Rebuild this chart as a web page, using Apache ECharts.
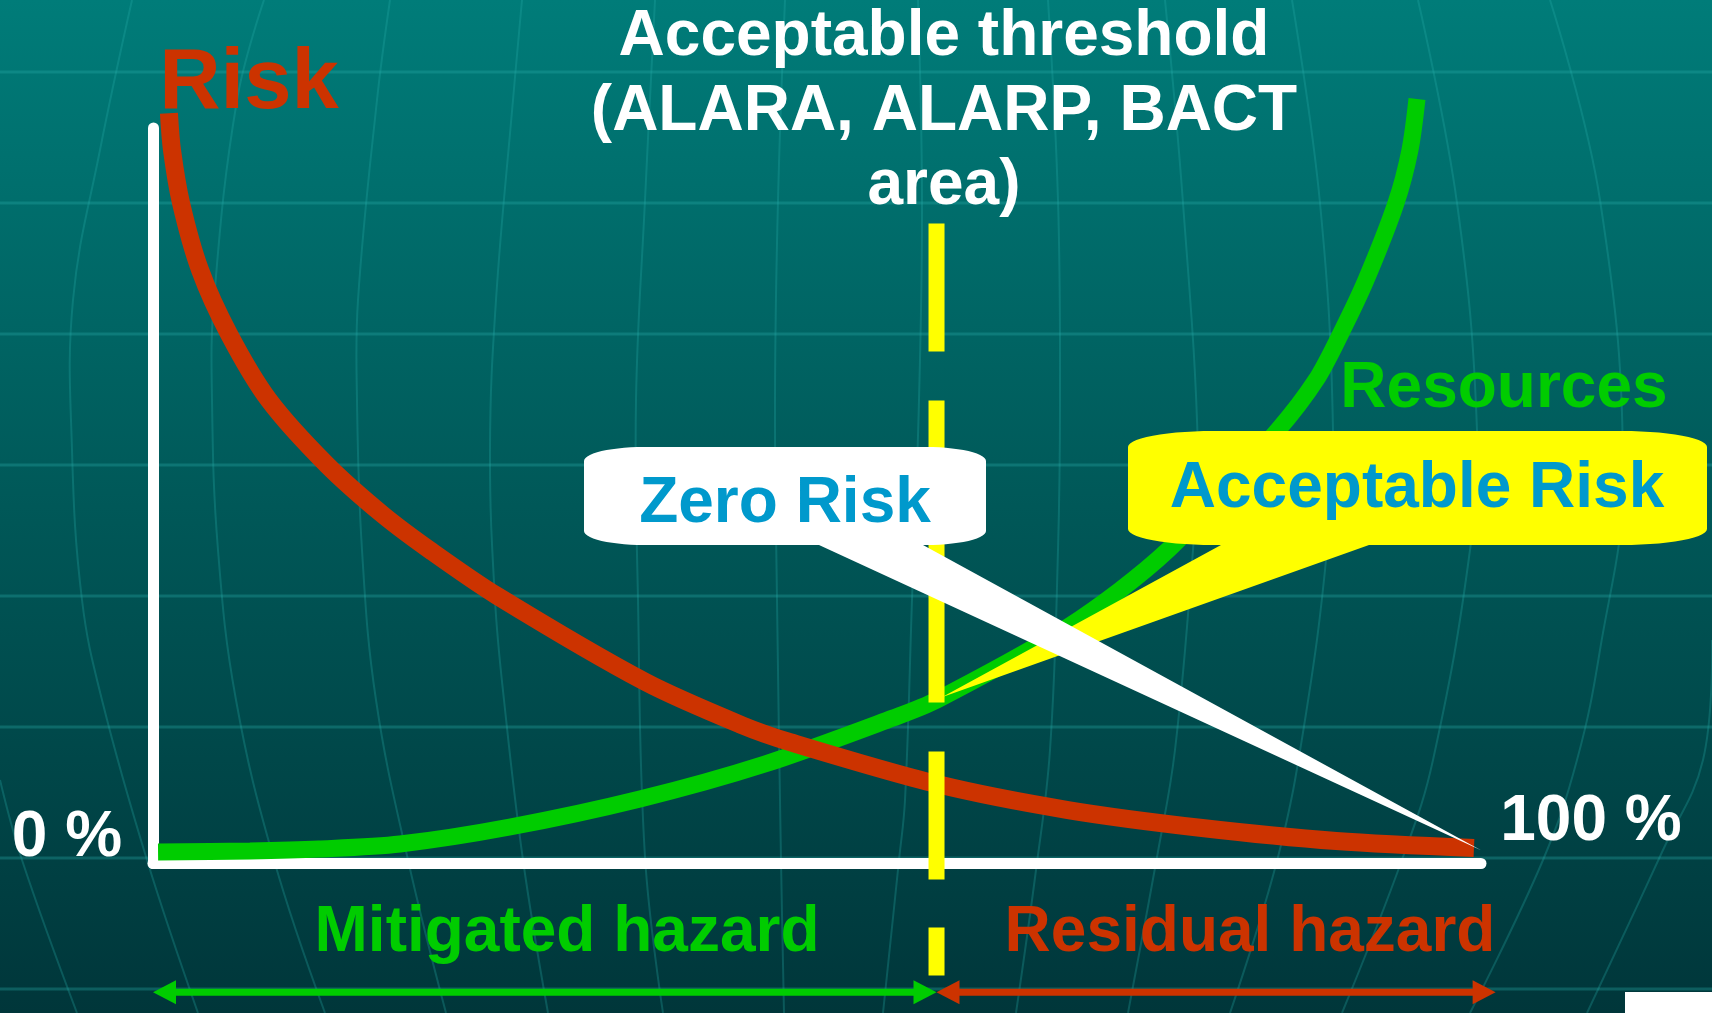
<!DOCTYPE html>
<html><head><meta charset="utf-8">
<script src="https://cdn.jsdelivr.net/npm/echarts@6/dist/echarts.min.js"></script>
<style>html,body{margin:0;padding:0;background:#004c4c;overflow:hidden}#c{width:1712px;height:1013px}</style>
</head><body><div id="c"></div>
<script>
// ---------------- data (x = % of hazard mitigated, y = relative level) ----------------
const riskX = [1.20, 1.43, 2.11, 3.54, 5.72, 8.73, 13.10, 17.32, 21.01, 25.9, 37.05, 44.35, 47.97, 59.04, 68.9, 79.0, 89.1, 99.47];
const riskY = [102.0, 97.0, 89.8, 80.7, 72.0, 63.0, 54.2, 47.4, 42.4, 36.4, 24.7, 18.8, 16.5, 10.8, 7.27, 4.83, 3.06, 2.1];
const resourceX = [0.38, 7.30, 12.5, 18.6, 26.88, 36.67, 46.08, 55.72, 59.04, 68.9, 76.43, 84.71, 87.58, 89.46, 91.34, 93.6, 94.65, 95.18];
const resourceY = [1.56, 1.70, 1.97, 2.65, 4.96, 8.77, 13.53, 19.78, 22.23, 32.16, 42.62, 58.94, 65.74, 72.13, 79.33, 89.8, 97.0, 103.94];
const threshold = 59.0;
const thresholdSpan = [87.0, -15.3];
const rangeLevel = -17.5;
const mitigatedRange = [0, 59.0];
const residualRange = [59.0, 101.1];
const zeroRiskPoint = [100, 1.8];
const acceptableRiskPoint = [59.4, 22.6];
const axisEndLabels = ['0 %', '100 %'];

// ---------------- colours / fonts ----------------
const RED = '#CC3300', GREEN = '#00CC00', YELLOW = '#FFFF00', BLUE = '#0099CC', WHITE = '#FFFFFF';
const FAM = '"Liberation Sans", Arial, sans-serif';
const font = fs => 'bold ' + fs + 'px ' + FAM;
const midY = (baseline, fs) => baseline - 0.29 * fs;

function zip(a, b) { return a.map((v, i) => [v, b[i]]); }

function calloutPoints(b, tip) {
  const pts = [];
  const arc = (cx, cy, a0, a1) => { for (let i = 0; i <= 14; i++) { const t = a0 + (a1 - a0) * i / 14; pts.push([cx + b.rx * Math.cos(t), cy + b.ry * Math.sin(t)]); } };
  arc(b.x0 + b.rx, b.y0 + b.ry, Math.PI, 1.5 * Math.PI);
  arc(b.x1 - b.rx, b.y0 + b.ry, 1.5 * Math.PI, 2 * Math.PI);
  arc(b.x1 - b.rx, b.y1 - b.ry, 0, 0.5 * Math.PI);
  pts.push([b.tailR, b.y1]); pts.push(tip); pts.push([b.tailL, b.y1]);
  arc(b.x0 + b.rx, b.y1 - b.ry, 0.5 * Math.PI, Math.PI);
  return pts;
}

const zeroBox = { x0: 584, x1: 986, y0: 447, y1: 545, rx: 60, ry: 14, tailL: 819, tailR: 923, fill: WHITE, text: 'Zero Risk', tx: 785, base: 523 };
const accBox = { x0: 1128, x1: 1707, y0: 431, y1: 545, rx: 85, ry: 16, tailL: 1221, tailR: 1369, fill: YELLOW, text: 'Acceptable Risk', tx: 1417, base: 508 };

function calloutSeries(box, point) {
  return {
    type: 'custom', coordinateSystem: 'cartesian2d', clip: false, z: 10, silent: true,
    data: [point],
    renderItem: function (params, api) {
      const tip = api.coord([api.value(0), api.value(1)]);
      return {
        type: 'group', children: [
          { type: 'polygon', shape: { points: calloutPoints(box, tip) }, style: { fill: box.fill } },
          { type: 'text', style: { text: box.text, x: box.tx, y: midY(box.base, 64), fill: BLUE, font: font(64), align: 'center', verticalAlign: 'middle', textAlign: 'center', textVerticalAlign: 'middle' } }
        ]
      };
    }
  };
}

function rangeArrow(range, color) {
  return {
    type: 'custom', coordinateSystem: 'cartesian2d', clip: false, z: 6, silent: true,
    data: [[range[0], range[1], rangeLevel]],
    encode: { x: [0, 1], y: 2 },
    renderItem: function (params, api) {
      const a = api.coord([api.value(0), api.value(2)]);
      const b = api.coord([api.value(1), api.value(2)]);
      const hl = 23, hh = 12;
      return {
        type: 'group', children: [
          { type: 'line', shape: { x1: a[0] + hl - 2, y1: a[1], x2: b[0] - hl + 2, y2: b[1] }, style: { stroke: color, lineWidth: 7 } },
          { type: 'polygon', shape: { points: [[a[0], a[1]], [a[0] + hl, a[1] - hh], [a[0] + hl, a[1] + hh]] }, style: { fill: color } },
          { type: 'polygon', shape: { points: [[b[0], b[1]], [b[0] - hl, b[1] - hh], [b[0] - hl, b[1] + hh]] }, style: { fill: color } }
        ]
      };
    }
  };
}

// ---------------- background decoration (globe-like grid) ----------------
const bgRows = [72, 203, 334, 465, 596, 727, 858, 989];
const bgMeridians = [
  [[0, 780], [22, 860], [77, 1013]],
  [[132, 0], [100, 150], [73, 300], [72, 450], [82, 600], [102, 700], [147, 860], [198, 1013]],
  [[264, 0], [237, 100], [214, 300], [212, 400], [218, 550], [236, 700], [274, 860], [325, 1013]],
  [[390, 0], [377, 100], [358, 300], [357, 400], [362, 550], [376, 700], [408, 860], [446, 1013]],
  [[522, 0], [513, 100], [496, 300], [490, 450], [495, 600], [504, 700], [523, 860], [548, 1013]],
  [[655, 0], [645, 200], [636, 400], [638, 600], [645, 857], [663, 1013]],
  [[785, 0], [778, 200], [775, 400], [777, 600], [781, 860], [784, 1013]],
  [[918, 0], [922, 200], [919, 400], [912, 600], [905, 800], [899, 860], [883, 1013]],
  [[1048, 0], [1058, 200], [1060, 400], [1058, 550], [1050, 750], [1036, 870], [1016, 1013]],
  [[1165, 0], [1183, 203], [1198, 450], [1193, 550], [1175, 750], [1157, 857], [1128, 1013]],
  [[1292, 0], [1320, 203], [1333, 430], [1327, 550], [1305, 720], [1278, 857], [1230, 1013]],
  [[1418, 0], [1457, 203], [1477, 430], [1470, 550], [1433, 760], [1403, 857], [1342, 1013]],
  [[1550, 0], [1600, 200], [1623, 480], [1600, 650], [1577, 760], [1543, 860], [1470, 1013]],
  [[1712, 640], [1703, 760], [1663, 850], [1587, 1013]]
];

const graphics = [];
bgRows.forEach(y => graphics.push({ type: 'line', z: -10, silent: true, shape: { x1: 0, y1: y, x2: 1712, y2: y }, style: { stroke: 'rgba(40,175,172,0.32)', lineWidth: 3 } }));
bgMeridians.forEach(p => graphics.push({ type: 'polyline', z: -10, silent: true, shape: { points: p, smooth: 0.4 }, style: { stroke: 'rgba(40,175,172,0.28)', lineWidth: 2, fill: null } }));
graphics.push({ type: 'rect', z: 50, silent: true, shape: { x: 1625, y: 992, width: 87, height: 21 }, style: { fill: WHITE } });

const labels = [
  { text: 'Risk', x: 249, base: 109, fs: 85, color: RED },
  { text: 'Acceptable threshold', x: 944, base: 56, fs: 64, color: WHITE },
  { text: '(ALARA, ALARP, BACT', x: 944, base: 131, fs: 64, color: WHITE },
  { text: 'area)', x: 944, base: 205, fs: 64, color: WHITE },
  { text: 'Resources', x: 1504, base: 408, fs: 64, color: GREEN },
  { text: axisEndLabels[0], x: 67, base: 857, fs: 64, color: WHITE },
  { text: axisEndLabels[1], x: 1591, base: 841, fs: 64, color: WHITE },
  { text: 'Mitigated hazard', x: 567, base: 952, fs: 64, color: GREEN },
  { text: 'Residual hazard', x: 1250, base: 952, fs: 64, color: RED }
];
labels.forEach(l => graphics.push({ type: 'text', z: 100, silent: true, style: { text: l.text, x: l.x, y: midY(l.base, l.fs), fill: l.color, font: font(l.fs), align: 'center', verticalAlign: 'middle', textAlign: 'center', textVerticalAlign: 'middle' } }));

// ---------------- chart ----------------
const chart = echarts.init(document.getElementById('c'), null, { renderer: 'canvas', width: 1712, height: 1013 });
const option = {
  animation: false,
  backgroundColor: new echarts.graphic.LinearGradient(0, 0, 0, 1, [
    { offset: 0, color: '#007C79' }, { offset: 0.5, color: '#005858' }, { offset: 1, color: '#00363A' }
  ]),
  grid: { left: 153, right: 231, top: 128, bottom: 149.5 },
  xAxis: { type: 'value', min: 0, max: 100, axisLine: { show: true, onZero: false, lineStyle: { color: WHITE, width: 11 } }, axisTick: { show: false }, axisLabel: { show: false }, splitLine: { show: false } },
  yAxis: { type: 'value', min: 0, max: 100, axisLine: { show: true, onZero: false, lineStyle: { color: WHITE, width: 11 } }, axisTick: { show: false }, axisLabel: { show: false }, splitLine: { show: false } },
  graphic: graphics,
  series: [
    { name: 'Resources', type: 'line', data: zip(resourceX, resourceY), smooth: 0.3, symbol: 'none', clip: false, z: 3, silent: true, lineStyle: { color: GREEN, width: 17 } },
    { name: 'Risk', type: 'line', data: zip(riskX, riskY), smooth: 0.3, symbol: 'none', clip: false, z: 4, silent: true, lineStyle: { color: RED, width: 18 } },
    { name: 'Threshold', type: 'line', data: [[threshold, thresholdSpan[0]], [threshold, thresholdSpan[1]]], symbol: 'none', clip: false, z: 5, silent: true, lineStyle: { color: YELLOW, width: 16, type: [128, 49, 302, 49, 128, 48, 48] } },
    rangeArrow(mitigatedRange, GREEN),
    rangeArrow(residualRange, RED),
    calloutSeries(accBox, acceptableRiskPoint),
    calloutSeries(zeroBox, zeroRiskPoint)
  ]
};
chart.setOption(option);
</script>
</body></html>
